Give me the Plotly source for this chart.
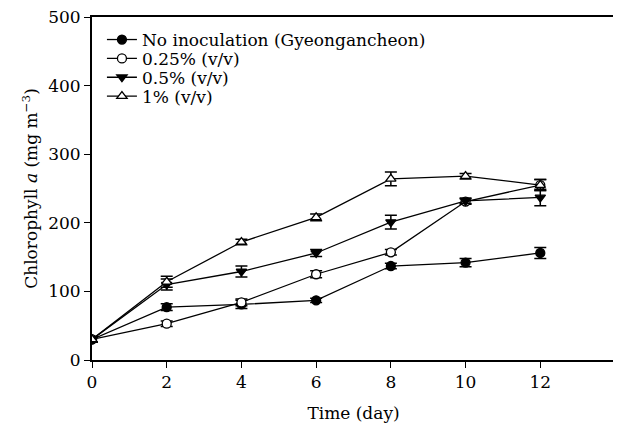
import plotly.graph_objects as go

days = [0, 2, 4, 6, 8, 10, 12]

names = ["No inoculation (Gyeongancheon)", "0.25% (v/v)", "0.5% (v/v)", "1% (v/v)"]

no_inoc = [30, 77, 81, 87, 137, 142, 156]
no_inoc_err = [4, 5, 6, 3, 4, 6, 8]

p025 = [30, 53, 84, 125, 157, 231, 255]
p025_err = [4, 4, 5, 5, 4, 4, 8]

p05 = [30, 110, 129, 156, 201, 232, 237]
p05_err = [4, 8, 8, 5, 10, 4, 12]

p1 = [30, 114, 172, 208, 264, 268, 255]
p1_err = [4, 8, 4, 5, 10, 4, 8]

series = [
    (names[0], no_inoc, no_inoc_err, "circle", "black"),
    (names[1], p025, p025_err, "circle", "white"),
    (names[2], p05, p05_err, "triangle-down", "black"),
    (names[3], p1, p1_err, "triangle-up", "white"),
]

FONT = "DejaVu Serif"
legend_ids = ["legend", "legend2", "legend3", "legend4"]
legend_y = [0.933, 0.878, 0.823, 0.768]

fig = go.Figure()
for (name, vals, errs, sym, fill), lid in zip(series, legend_ids):
    fig.add_trace(go.Scatter(
        x=days, y=vals, name=name, mode="lines+markers",
        legend=lid,
        line=dict(color="black", width=1.3),
        marker=dict(symbol=sym, size=9, color=fill,
                    line=dict(color="black", width=1.3)),
        error_y=dict(type="data", array=errs, visible=True,
                     color="black", thickness=1.5, width=6),
    ))

legend_layout = {}
for lid, ly in zip(legend_ids, legend_y):
    legend_layout[lid] = dict(
        x=0.019, y=ly, xanchor="left", yanchor="middle",
        bgcolor="rgba(0,0,0,0)", borderwidth=0,
        font=dict(family=FONT, size=17, color="black"),
    )

fig.update_layout(
    width=613, height=417,
    margin=dict(l=84, r=6, t=9, b=65, autoexpand=False),
    paper_bgcolor="white", plot_bgcolor="white",
    font=dict(family=FONT, color="black", size=17),
    showlegend=True,
    xaxis=dict(range=[0, 14], tickvals=[0, 2, 4, 6, 8, 10, 12],
               showline=True, linecolor="black", linewidth=1.8, mirror=True,
               ticks="outside", ticklen=6, tickcolor="black", tickwidth=1.2,
               showgrid=False, zeroline=False, ticklabeloverflow="allow",
               automargin=False,
               tickfont=dict(family=FONT, size=17),
               title=dict(text="Time (day)", font=dict(family=FONT, size=17), standoff=16)),
    yaxis=dict(range=[0, 500], tickvals=[0, 100, 200, 300, 400, 500],
               showline=True, linecolor="black", linewidth=1.8, mirror=True,
               ticks="outside", ticklen=6, tickcolor="black", tickwidth=1.2,
               showgrid=False, zeroline=False, ticklabeloverflow="allow",
               automargin=False,
               tickfont=dict(family=FONT, size=17),
               title=dict(text="Chlorophyll <i>a</i> (mg m<sup>\u22123</sup>)",
                          font=dict(family=FONT, size=17), standoff=6)),
    **legend_layout,
)

fig.write_html("out.html")
